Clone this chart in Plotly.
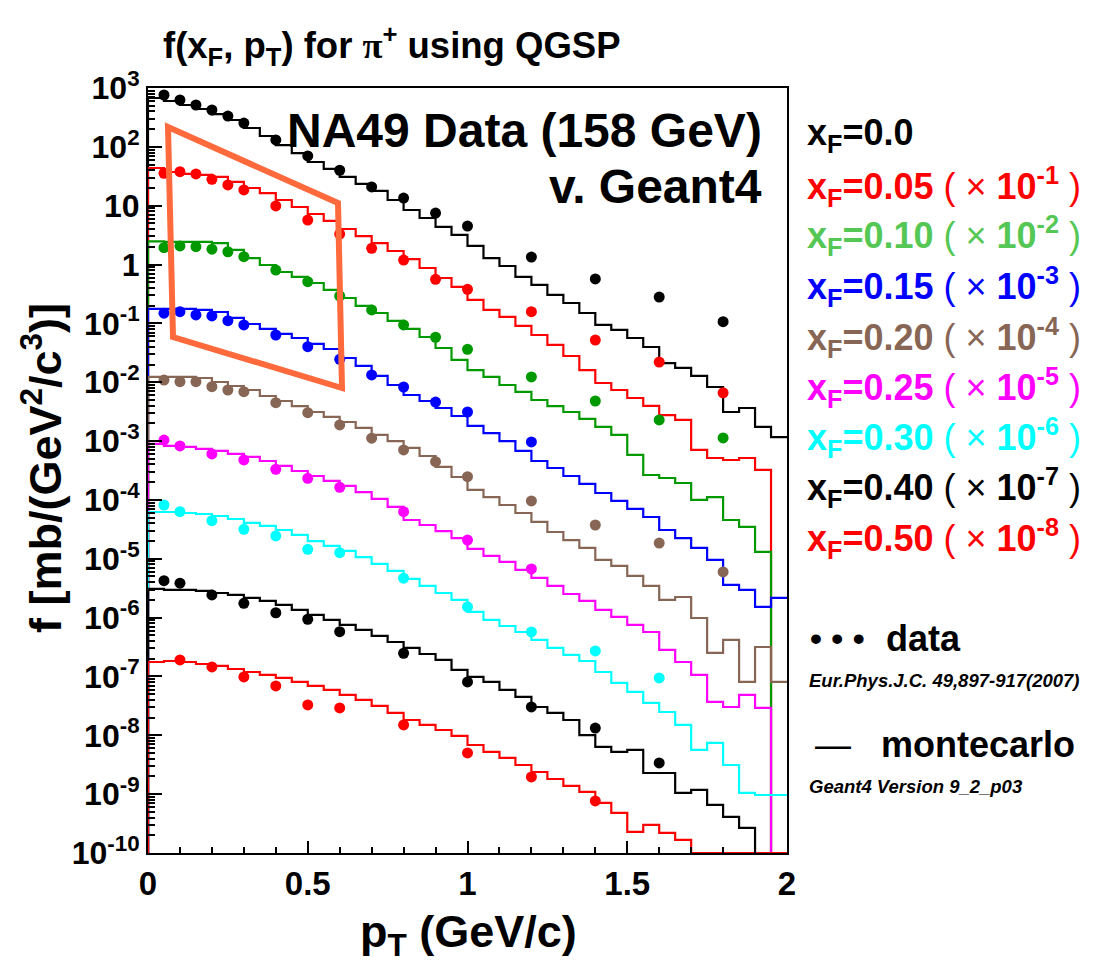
import plotly.graph_objects as go

# ---------------- data ----------------
PT_EDGES = [round(0.05 * i, 2) for i in range(41)]          # MC histogram bin edges (GeV/c)
PT_FULL = [0.05, 0.1, 0.15, 0.2, 0.25, 0.3, 0.4, 0.5, 0.6, 0.7, 0.8, 0.9, 1.0, 1.2, 1.4, 1.6, 1.8]
PT_A = [0.05, 0.1, 0.15, 0.2, 0.25, 0.3, 0.4, 0.5, 0.6, 0.7, 0.8, 0.9, 1.0, 1.2]
PT_B = [0.05, 0.1, 0.2, 0.3, 0.4, 0.5, 0.6, 0.8, 1.0, 1.2]
PT_C = [0.05, 0.1, 0.2, 0.3, 0.4, 0.5, 0.6, 0.8, 1.0, 1.2, 1.4, 1.6]
PT_D = [0.1, 0.2, 0.3, 0.4, 0.5, 0.6, 0.8, 1.0, 1.2, 1.4]

XF_LABELS = ["0.0", "0.05", "0.10", "0.15", "0.20", "0.25", "0.30", "0.40", "0.50"]
SCALE_EXP = [0, -1, -2, -3, -4, -5, -6, -7, -8]
SCALES = [1, 1e-1, 1e-2, 1e-3, 1e-4, 1e-5, 1e-6, 1e-7, 1e-8]
COLORS = ["#000000", "#ff0000", "#009900", "#0000ff", "#886655", "#ff00ff", "#00ffff", "#000000", "#ff0000"]
LEGEND_COLORS = ["#000000", "#ff0000", "#55c755", "#0000ff", "#886655", "#ff00ff", "#00ffff", "#000000", "#ff0000"]

# NA49 data, f in mb/(GeV^2/c^3)
data_xf000 = [760, 625, 514, 423, 334, 254, 131, 70, 40, 20.8, 13.5, 7.5, 4.5, 1.34, 0.57, 0.28, 0.107]
data_xf005 = [356, 378, 346, 281, 225, 185, 99, 57, 33, 18.9, 11.9, 5.6, 3.8, 1.58, 0.52, 0.22, 0.066]
data_xf010 = [193, 207, 201, 182, 165, 136, 80.7, 51.1, 29.2, 16.9, 9.40, 5.81, 3.63, 1.23, 0.480, 0.229, 0.113]
data_xf015 = [149, 158, 139, 134, 111, 94.0, 63.5, 40.2, 24.5, 13.3, 8.30, 4.61, 3.12, 0.966]
data_xf020 = [109, 102, 102, 84.0, 73.8, 69.0, 45.0, 30.4, 18.8, 11.2, 7.06, 4.47, 2.48, 0.960, 0.375, 0.185, 0.0597]
data_xf025 = [104, 82.6, 60.4, 47.8, 33.2, 23.3, 16.4, 6.31, 2.08, 0.671]
data_xf030 = [82.0, 63.1, 44.4, 31.7, 24.4, 14.5, 12.7, 4.67, 1.52, 0.570, 0.271, 0.0944]
data_xf040 = [42.5, 38.4, 24.3, 17.5, 12.1, 9.38, 5.77, 2.48, 0.807, 0.303, 0.133, 0.0339]
data_xf050 = [19.1, 14.5, 9.81, 6.90, 3.28, 2.92, 1.50, 0.501, 0.196, 0.0767]

# Geant4 QGSP montecarlo, 40 bins of 0.05 GeV/c (0 = empty bin)
mc_xf000 = [676, 601, 514, 440, 361, 286, 209, 153, 107, 78.5, 55.3, 42.1, 30.8, 23.4, 17.8, 12.5, 8.45, 6.18, 4.35, 3.18,
            2.07, 1.29, 0.944, 0.615, 0.450, 0.304, 0.222, 0.150, 0.0940, 0.0773, 0.0565, 0.0397, 0.0212, 0.0175, 0.0128,
            0.0083, 0.00312, 0.00365, 0.00174, 0.00117]
mc_xf005 = [437, 374, 346, 333, 308, 253, 200, 164, 125, 95, 72.3, 55.0, 40.2, 30.5, 23.2, 17.0, 12.4, 8.73, 5.90, 4.16,
            2.50, 1.69, 1.29, 0.904, 0.635, 0.430, 0.279, 0.161, 0.0971, 0.0738, 0.0540, 0.0395, 0.0277, 0.0229, 0.00706,
            0.00516, 0.00477, 0.00516, 0.00323, 0]
mc_xf010 = [248, 242, 242, 242, 232, 177, 129, 98.2, 74.7, 61.5, 48.6, 37.0, 27.0, 19.8, 15.0, 11.0, 8.04, 5.87, 3.82, 2.39,
            1.61, 1.23, 0.898, 0.683, 0.499, 0.394, 0.312, 0.238, 0.174, 0.127, 0.0581, 0.0265, 0.0236, 0.0194, 0.00998,
            0.0112, 0.00456, 0.00347, 0.00131, 0]
mc_xf015 = [176, 176, 176, 169, 156, 124, 97.7, 80.4, 66.1, 56.5, 44.7, 36.7, 25.8, 18.9, 12.8, 8.98, 6.07, 4.80, 3.65, 2.67,
            1.81, 1.37, 1.00, 0.679, 0.459, 0.349, 0.255, 0.187, 0.131, 0.0960, 0.0702, 0.0513, 0.0308, 0.0225, 0.0153,
            0.00955, 0.00359, 0.00295, 0.00152, 0.00216]
mc_xf020 = [123, 123, 123, 118, 101, 86.3, 73.8, 58.3, 48.0, 39.4, 31.2, 25.7, 21.1, 16.7, 12.7, 10.0, 7.64, 5.58, 3.63, 2.45,
            1.48, 1.12, 0.820, 0.600, 0.422, 0.285, 0.208, 0.153, 0.0955, 0.0755, 0.0511, 0.0345, 0.0200, 0.0224, 0.00986,
            0.00251, 0.00417, 0.000807, 0.00317, 0.000807]
mc_xf025 = [89.3, 82.6, 79.4, 73.5, 67.9, 60.4, 53.7, 45.9, 37.8, 31.0, 25.5, 21.0, 17.3, 13.6, 10.4, 7.59, 4.56, 3.75, 2.96,
            2.25, 1.47, 1.12, 0.883, 0.646, 0.472, 0.345, 0.252, 0.192, 0.135, 0.103, 0.0750, 0.0570, 0.0282, 0.0176,
            0.0106, 0.00369, 0.00303, 0.00485, 0.00292, 0]
mc_xf030 = [62.4, 62.4, 60.0, 57.7, 53.3, 47.4, 40.6, 36.1, 30.8, 25.4, 20.0, 16.5, 13.6, 10.7, 8.17, 6.21, 4.54, 3.45, 2.62,
            2.00, 1.25, 0.912, 0.721, 0.570, 0.417, 0.305, 0.232, 0.183, 0.119, 0.0776, 0.0546, 0.0355, 0.0249, 0.0150,
            0.00564, 0.00741, 0.00313, 0.00105, 0.000968, 0.000968]
mc_xf040 = [30.7, 29.5, 29.5, 28.4, 26.2, 24.3, 21.6, 19.2, 16.4, 13.5, 11.1, 9.12, 7.50, 6.17, 4.88, 3.85, 3.05, 2.41, 1.91,
            1.29, 0.982, 0.807, 0.590, 0.449, 0.303, 0.240, 0.182, 0.101, 0.0634, 0.0521, 0.0564, 0.0229, 0.0229, 0.0105,
            0.0118, 0.00655, 0.00410, 0.00267, 0, 0]
mc_xf050 = [17.6, 18.3, 17.6, 16.3, 15.1, 13.4, 11.9, 10.6, 9.44, 8.07, 6.90, 5.90, 4.85, 3.99, 3.16, 2.40, 1.82, 1.50, 1.23,
            0.975, 0.685, 0.521, 0.412, 0.313, 0.238, 0.181, 0.138, 0.109, 0.0710, 0.0480, 0.0228, 0.0300, 0.0219, 0.0167,
            0, 0, 0, 0, 0, 0]

DATA_PT = [PT_FULL, PT_FULL, PT_FULL, PT_A, PT_FULL, PT_B, PT_C, PT_C, PT_D]
DATA = [data_xf000, data_xf005, data_xf010, data_xf015, data_xf020, data_xf025, data_xf030, data_xf040, data_xf050]
MC = [mc_xf000, mc_xf005, mc_xf010, mc_xf015, mc_xf020, mc_xf025, mc_xf030, mc_xf040, mc_xf050]

Y_TICK_EXP = list(range(3, -11, -1))
YMIN, YMAX = 1e-10, 1e3

# ---------------- figure ----------------
FONT = "Liberation Sans, Arial, Helvetica, sans-serif"
fig = go.Figure()

for mc, col, sc in zip(MC, COLORS, SCALES):
    yv = [v * sc if v > 0 else YMIN for v in mc]
    fig.add_trace(go.Scatter(
        x=[0] + PT_EDGES, y=[YMIN] + yv + [yv[-1]],
        mode="lines", line=dict(color=col, width=2.2, shape="hv"),
        showlegend=False, hoverinfo="skip"))

for pts, dat, col, sc in zip(DATA_PT, DATA, COLORS, SCALES):
    fig.add_trace(go.Scatter(
        x=pts, y=[v * sc for v in dat], mode="markers",
        marker=dict(color=col, size=11, symbol="circle"),
        showlegend=False, cliponaxis=False))

def sup_label(e):
    if e == 0:
        return "1"
    if e == 1:
        return "10"
    return "10<sup>%d</sup>" % e

minor_y = [m * 10.0 ** e for e in range(-10, 3) for m in range(2, 10)]

fig.update_layout(
    width=1098, height=968,
    margin=dict(l=148, r=311, t=88, b=115),
    paper_bgcolor="white", plot_bgcolor="white",
    font=dict(family=FONT, color="black"),
    xaxis=dict(
        range=[0, 2], showgrid=False, zeroline=False, automargin=False,
        showline=True, linecolor="black", linewidth=2, mirror=True,
        tickmode="array", tickvals=[0, 0.5, 1, 1.5, 2], ticktext=["0", "0.5", "1", "1.5", "2"],
        ticks="inside", ticklen=12, tickwidth=2, tickcolor="black",
        tickfont=dict(family=FONT, size=33, color="black", weight="bold"),
        minor=dict(tickmode="array", tickvals=[0.1, 0.2, 0.3, 0.4, 0.6, 0.7, 0.8, 0.9, 1.1, 1.2, 1.3, 1.4,
                                               1.6, 1.7, 1.8, 1.9],
                   ticks="inside", ticklen=6, tickwidth=2, tickcolor="black", showgrid=False),
    ),
    yaxis=dict(
        type="log", range=[-10, 3], showgrid=False, zeroline=False, automargin=False,
        showline=True, linecolor="black", linewidth=2, mirror=True,
        tickmode="array", tickvals=[10.0 ** e for e in Y_TICK_EXP], ticktext=[sup_label(e) for e in Y_TICK_EXP],
        ticks="inside", ticklen=14, tickwidth=2, tickcolor="black",
        tickfont=dict(family=FONT, size=32, color="black", weight="bold"),
        minor=dict(tickmode="array", tickvals=minor_y, ticks="inside", ticklen=7, tickwidth=1.5,
                   tickcolor="black", showgrid=False),
    ),
)

def px_to_paper(px, py):
    return (px - 148) / 639.0, (853 - py) / 765.0

annotations = []

def add_text(text, px, py, size, color="black", xanchor="left", yanchor="middle", angle=0, weight="normal",
             style="normal"):
    x, y = px_to_paper(px, py)
    annotations.append(dict(
        text=text, x=x, y=y, xref="paper", yref="paper", showarrow=False,
        xanchor=xanchor, yanchor=yanchor, textangle=angle,
        font=dict(family=FONT, size=size, color=color, weight=weight, style=style)))

# titles
add_text("f(x<sub>F</sub>, p<sub>T</sub>) for <span style=\"font-family:'Liberation Serif',serif\">π</span><sup>+</sup> using QGSP",
         392, 46, 36.5, xanchor="center", weight="bold")
add_text("p<sub>T</sub> (GeV/c)", 468, 934, 45, xanchor="center", weight="bold")
add_text("f [mb/(GeV<sup>2</sup>/c<sup>3</sup>)]", 42, 468, 45, xanchor="center", angle=-90, weight="bold")

# in-plot labels
add_text("NA49 Data (158 GeV)", 764, 130, 48, xanchor="right", weight="bold")
add_text("v. Geant4", 764, 186, 48, xanchor="right", weight="bold")

# legend of x_F values
ROW_Y = [135, 186, 236, 286, 337, 387, 437, 488, 538]
for lab, e, col, ry in zip(XF_LABELS, SCALE_EXP, LEGEND_COLORS, ROW_Y):
    if e == 0:
        t = "<b>x<sub>F</sub>=%s</b>" % lab
    else:
        t = "<b>x<sub>F</sub>=%s</b> ( × <b>10<sup>%d</sup></b> )" % (lab, e)
    add_text(t, 805, ry, 36, color=col)

add_text("• • •", 808, 638, 34, weight="bold")
add_text("data", 884, 638, 36, weight="bold")
add_text("Eur.Phys.J.C. 49,897-917(2007)", 807, 680, 18.5, style="italic", weight="bold")
add_text("—", 813, 744, 36)
add_text("montecarlo", 879, 744, 36, weight="bold")
add_text("Geant4 Version 9_2_p03", 807, 786, 18.5, style="italic", weight="bold")

fig.update_layout(annotations=annotations)

# orange highlight box
corners = [px_to_paper(168, 127), px_to_paper(338, 203), px_to_paper(342, 388), px_to_paper(173, 337)]
path = "M %f,%f L %f,%f L %f,%f L %f,%f Z" % tuple(c for pt in corners for c in pt)
fig.add_shape(type="path", path=path, xref="paper", yref="paper",
              line=dict(color="#ff6a3d", width=6), fillcolor="rgba(0,0,0,0)", layer="above")

fig.write_html("out.html", config={"displayModeBar": False},
               post_script="document.body.style.margin='0px';")
